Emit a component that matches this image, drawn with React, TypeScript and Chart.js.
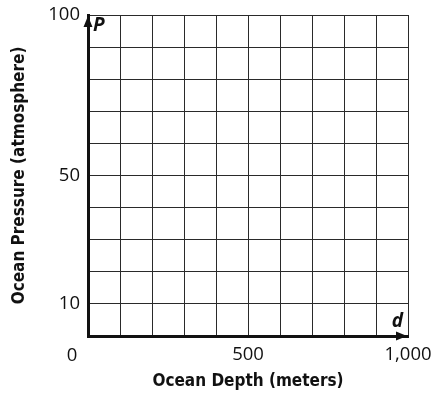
import React, { useEffect, useRef } from "react";
import { Chart, registerables } from "chart.js";

Chart.register(...registerables);

// Blank grid: no plotted values
const depthValues: number[] = [];
const pressureValues: number[] = [];
const xTickLabels: Record<number, string> = { 500: "500", 1000: "1,000" };
const yTickLabels: Record<number, string> = { 10: "10", 50: "50", 100: "100" };
const originLabel = "0";
const xTitle = "Ocean Depth (meters)";
const yTitle = "Ocean Pressure (atmosphere)";
const xVarLabel = "d";
const yVarLabel = "P";

const tickFont = { family: "'Open Sans', 'Noto Sans', sans-serif", size: 18.5 };
const titleFont = { family: "'DejaVu Sans Condensed', 'DejaVu Sans', sans-serif", size: 17, weight: "bold" as const };

const axesPlugin = {
  id: "axesDecor",
  afterDraw(chart: any) {
    const { ctx, chartArea, scales } = chart;
    const x0 = scales.x.getPixelForValue(0);
    const y0 = scales.y.getPixelForValue(0);
    const top = chartArea.top;
    const right = chartArea.right;
    ctx.save();
    ctx.fillStyle = "#111";
    // y arrow
    ctx.beginPath();
    ctx.moveTo(x0, top + 1);
    ctx.lineTo(x0 - 4.5, top + 12);
    ctx.lineTo(x0 + 4.5, top + 12);
    ctx.closePath();
    ctx.fill();
    // x arrow
    ctx.beginPath();
    ctx.moveTo(right - 1, y0);
    ctx.lineTo(right - 12, y0 - 4.5);
    ctx.lineTo(right - 12, y0 + 4.5);
    ctx.closePath();
    ctx.fill();
    // variable labels
    ctx.font = "italic bold 19px 'Open Sans', 'Noto Sans', sans-serif";
    ctx.textAlign = "left";
    ctx.textBaseline = "alphabetic";
    ctx.fillText(yVarLabel, x0 + 5, top + 16);
    ctx.textAlign = "right";
    ctx.fillText(xVarLabel, right - 5, y0 - 9);
    // origin label
    ctx.font = "18.5px 'Open Sans', 'Noto Sans', sans-serif";
    ctx.textAlign = "center";
    ctx.textBaseline = "middle";
    ctx.fillStyle = "#111";
    ctx.fillText(originLabel, x0 - 16, y0 + 20);
    ctx.restore();
  },
};

export default function App() {
  const ref = useRef<HTMLCanvasElement | null>(null);
  useEffect(() => {
    if (!ref.current) return;
    const chart = new Chart(ref.current, {
      type: "scatter",
      data: {
        datasets: [
          {
            data: depthValues.map((d, i) => ({ x: d, y: pressureValues[i] })),
          },
        ],
      },
      options: {
        animation: false,
        responsive: true,
        maintainAspectRatio: false,
        layout: { padding: { top: 15, right: 30, left: 0, bottom: 0 } },
        plugins: { legend: { display: false }, tooltip: { enabled: false } },
        scales: {
          x: {
            type: "linear",
            min: 0,
            max: 1000,
            afterFit: (s: any) => {
              s.height = 58;
              s.paddingLeft = 0;
              s.paddingRight = 0;
            },
            ticks: {
              stepSize: 100,
              autoSkip: false,
              maxRotation: 0,
              padding: 8,
              color: "#111",
              font: tickFont,
              callback: (v: any) => xTickLabels[Number(v)] ?? "",
            },
            grid: { color: "#2a2a2a", lineWidth: 1, drawTicks: false },
            border: { display: true, color: "#111", width: 3 },
            title: { display: true, text: xTitle, color: "#111", font: titleFont, padding: { top: 0, bottom: 2 } },
          },
          y: {
            type: "linear",
            min: 0,
            max: 100,
            afterFit: (s: any) => {
              s.width = 88;
              s.paddingTop = 0;
              s.paddingBottom = 0;
            },
            ticks: {
              stepSize: 10,
              autoSkip: false,
              padding: 8,
              color: "#111",
              font: tickFont,
              callback: (v: any) => yTickLabels[Number(v)] ?? "",
            },
            grid: { color: "#2a2a2a", lineWidth: 1, drawTicks: false },
            border: { display: true, color: "#111", width: 3 },
            title: { display: true, text: yTitle, color: "#111", font: titleFont, padding: { top: 9, bottom: 0 } },
          },
        },
      },
      plugins: [axesPlugin],
    });
    return () => chart.destroy();
  }, []);
  return (
    <div style={{ position: "fixed", left: 0, top: 0, width: 438, height: 394, background: "#fff" }}>
      <canvas ref={ref} />
    </div>
  );
}
